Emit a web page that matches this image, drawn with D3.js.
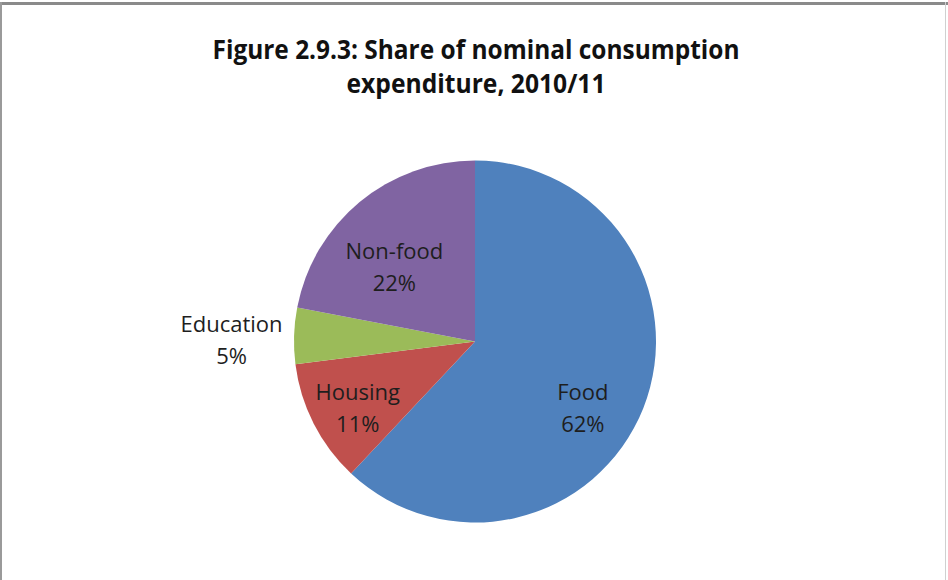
<!DOCTYPE html>
<html>
<head>
<meta charset="utf-8">
<script src="https://cdn.jsdelivr.net/npm/d3@7"></script>
<style>
  html, body { margin: 0; padding: 0; background: #fff; }
  svg { display: block; }
</style>
</head>
<body>
<svg id="chart" width="948" height="580"></svg>
<script>
// ---- data ----
const categories = ["Food", "Housing", "Education", "Non-food"];
const shares = [62, 11, 5, 22];
const labelText = ["62%", "11%", "5%", "22%"];
const colors = ["#4F81BD", "#C0504D", "#9BBB59", "#8064A2"];
const titleLines = ["Figure 2.9.3: Share of nominal consumption", "expenditure, 2010/11"];

// ---- label layout (angle offset in degrees, radius as fraction of pie radius) ----
const labelAngleOffset = [10.1, -2.6, -1.4, -7.6];
const labelRadiusFrac = [0.70, 0.745, 1.345, 0.607];

const W = 948, H = 580;
const cx = 475, cy = 341.5, R = 181;
const svg = d3.select("#chart");

// background and frame
svg.append("rect").attr("x", 0).attr("y", 0).attr("width", W).attr("height", H).attr("fill", "#fff");
svg.append("rect").attr("x", 0).attr("y", 2).attr("width", W).attr("height", 3).attr("fill", "#8a8a8a");
svg.append("line").attr("x1", 1).attr("x2", 1).attr("y1", 2).attr("y2", H).attr("stroke", "#9a9a9a").attr("stroke-width", 2);
svg.append("line").attr("x1", 945.5).attr("x2", 945.5).attr("y1", 2).attr("y2", H).attr("stroke", "#d0d0d0").attr("stroke-width", 1);

// title
const title = svg.append("g");
const titleWidths = [527, 259];
const titleBaselines = [59, 93];
titleLines.forEach((t, i) => {
  title.append("text")
    .attr("x", 476)
    .attr("y", titleBaselines[i])
    .attr("text-anchor", "middle")
    .attr("font-family", "'Liberation Sans Narrow', 'Open Sans', sans-serif")
    .attr("font-weight", "bold")
    .attr("font-size", 27)
    .attr("fill", "#111")
    .attr("textLength", titleWidths[i])
    .attr("lengthAdjust", "spacingAndGlyphs")
    .text(t);
});

// pie
const data = categories.map((c, i) => ({ name: c, value: shares[i], label: labelText[i], color: colors[i], i }));
const pie = d3.pie().value(d => d.value).sort(null);
const arc = d3.arc().innerRadius(0).outerRadius(R);
const arcs = pie(data);

const g = svg.append("g").attr("transform", `translate(${cx},${cy})`);
g.selectAll("path.slice")
  .data(arcs)
  .enter().append("path")
  .attr("class", "slice")
  .attr("d", arc)
  .attr("fill", d => d.data.color);

// labels
const lab = g.selectAll("g.label")
  .data(arcs)
  .enter().append("g")
  .attr("class", "label")
  .attr("transform", d => {
    const mid = (d.startAngle + d.endAngle) / 2 + labelAngleOffset[d.data.i] * Math.PI / 180;
    const r = R * labelRadiusFrac[d.data.i];
    return `translate(${r * Math.sin(mid)},${-r * Math.cos(mid)})`;
  });

lab.append("text")
  .attr("text-anchor", "middle")
  .attr("y", -8)
  .attr("font-family", "'Open Sans', sans-serif")
  .attr("font-size", 22)
  .attr("fill", "#1e1e1e")
  .text(d => d.data.name);
lab.append("text")
  .attr("text-anchor", "middle")
  .attr("y", 24)
  .attr("font-family", "'Open Sans', sans-serif")
  .attr("font-size", 22)
  .attr("fill", "#1e1e1e")
  .text(d => d.data.label);
</script>
</body>
</html>
